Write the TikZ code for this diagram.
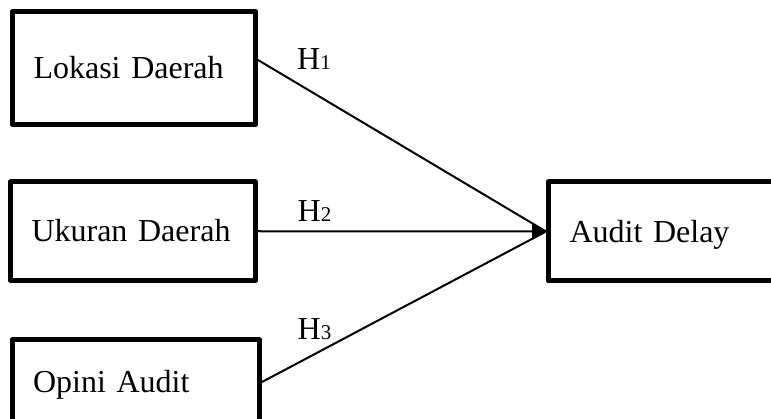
\documentclass[tikz,border=0pt]{standalone}
\usepackage{fontspec}
\setmainfont{Liberation Serif}
\usetikzlibrary{arrows.meta}
\begin{document}
\begin{tikzpicture}[x=1pt,y=-1pt,
  box/.style={draw, line width=5pt, line join=round, rectangle, inner xsep=21pt, inner ysep=0pt,
    align=left, text height=21.5pt, text depth=0pt, font=\fontsize{32}{38}\selectfont},
  conn/.style={line width=2pt},
  arr/.style={conn, -{Triangle[length=14pt,width=15pt]}},
  hyp/.style={anchor=base west, inner sep=0pt, font=\fontsize{32}{38}\selectfont},
]
\useasboundingbox (0,0) rectangle (771,419);
\clip (0,0) rectangle (771,419);
\node[box, text width=201pt, minimum height=113pt] (lok) at (134,68) {Lokasi Daerah};
\node[box, text width=203pt, minimum height=98.5pt] (uku) at (133,231.25) {Ukuran Daerah};
\node[box, text width=205.5pt, minimum height=84pt] (opi) at (135.75,382) {Opini Audit};
\node[box, text width=199pt, minimum height=99pt] (aud) at (669,231.5) {Audit Delay};
\draw[conn] ([yshift=8pt]lok.east) -- (aud.west);
\draw[arr] (uku.east) -- (aud.west);
\draw[conn] (opi.east) -- (aud.west);
\node[hyp] (h1) at (297,70) {H{\fontsize{21}{21}\selectfont 1}};
\node[hyp] (h2) at (297.5,222) {H{\fontsize{21}{21}\selectfont 2}};
\node[hyp] (h3) at (297.5,340) {H{\fontsize{21}{21}\selectfont 3}};
\end{tikzpicture}
\end{document}
